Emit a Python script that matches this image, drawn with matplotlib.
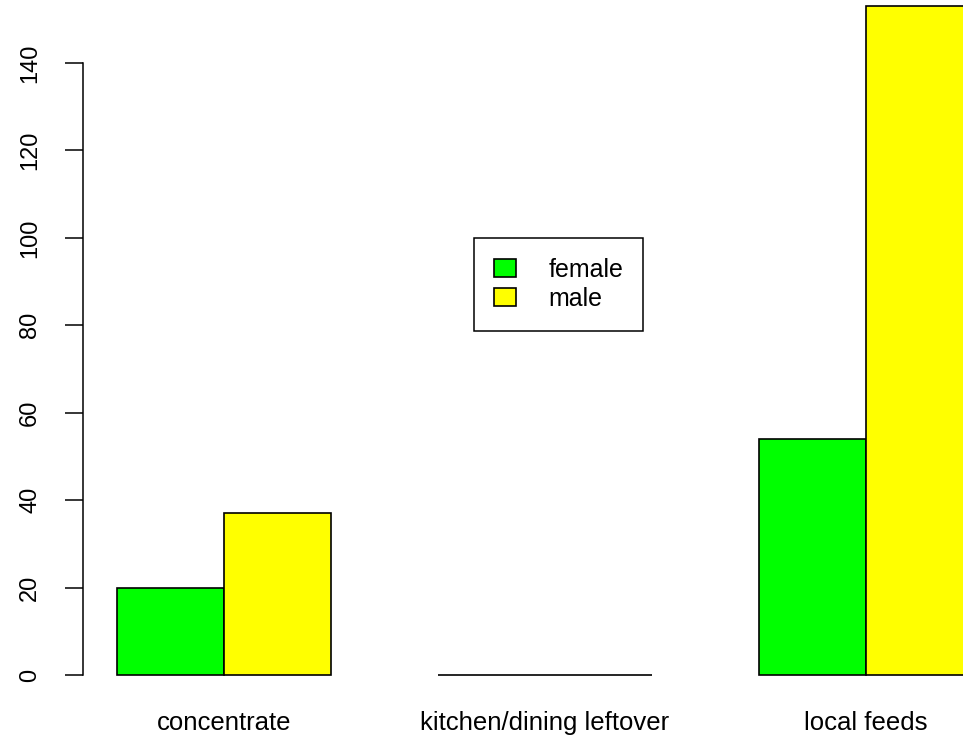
import matplotlib.pyplot as plt

plt.rcParams["font.family"] = ["Liberation Sans", "DejaVu Sans"]

# Data
categories = ["concentrate", "kitchen/dining leftover", "local feeds"]
female = [20, 0, 54]
male = [37, 0, 153]
y_ticks = [0, 20, 40, 60, 80, 100, 120, 140]


def plot_bars(out_fp):
    fig = plt.figure(figsize=(9.63, 7.36), dpi=100)
    ax = fig.add_axes([0, 0, 1, 1])

    # R-style beside barplot: bar width 1, one-bar gap between groups
    n = len(categories)
    group_left = [1 + 3 * i for i in range(n)]
    ax.bar(group_left, female, width=1, align="edge", color="#00ff00",
           edgecolor="black", linewidth=1.2, label="female")
    ax.bar([g + 1 for g in group_left], male, width=1, align="edge",
           color="#ffff00", edgecolor="black", linewidth=1.2, label="male")

    ax.set_xlim(-0.0935, 8.907)
    ax.set_ylim(-13.95, 154.4)

    # y axis only spans the tick range, like base R
    for s in ["top", "right", "bottom"]:
        ax.spines[s].set_visible(False)
    ax.spines["left"].set_position(("data", 0.68))
    ax.spines["left"].set_bounds(0, 140)
    ax.spines["left"].set_linewidth(1.1)
    ax.spines["bottom"].set_position(("data", 0))

    ax.set_yticks(y_ticks)
    ax.set_yticklabels([str(t) for t in y_ticks])
    ax.tick_params(axis="y", length=13, width=1.1, pad=17, labelsize=17,
                   labelrotation=90)
    for lab in ax.get_yticklabels():
        lab.set_va("center")

    ax.set_xticks([g + 1 for g in group_left])
    ax.set_xticklabels(categories)
    ax.tick_params(axis="x", length=0, pad=26, labelsize=18.5)

    leg = ax.legend(loc="upper left", bbox_to_anchor=(4.336, 100),
                    bbox_transform=ax.transData, fontsize=18, frameon=True,
                    fancybox=False, edgecolor="black", framealpha=1,
                    handlelength=0.88, handleheight=0.72, handletextpad=1.3,
                    borderpad=0.8, labelspacing=0.2, borderaxespad=0)
    leg.get_frame().set_linewidth(1.1)

    fig.savefig(out_fp, dpi=100)


if __name__ == "__main__":
    plot_bars("out.png")
